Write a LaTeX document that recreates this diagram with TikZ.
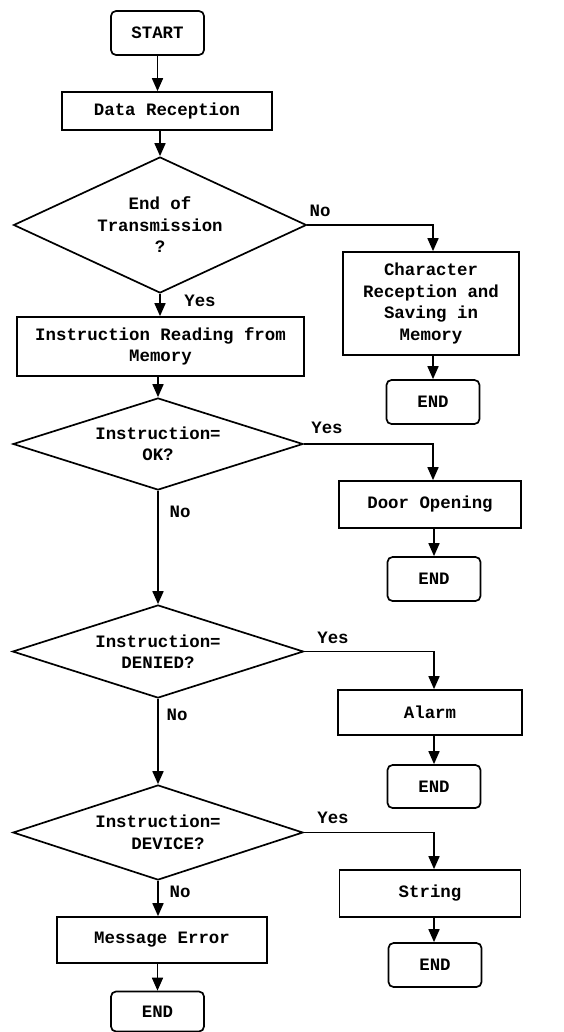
\documentclass[tikz,border=0pt]{standalone}
\usepackage{fontspec}
\setmonofont{Liberation Mono}
\usetikzlibrary{shapes.geometric,arrows.meta}
\begin{document}
\begin{tikzpicture}[x=1pt,y=-1pt,
  every node/.style={font=\ttfamily\bfseries\fontsize{17.4}{21.5}\selectfont, inner sep=0pt},
  proc/.style={draw, line width=1.7pt, align=center},
  term/.style={draw, line width=1.7pt, rounded corners=5pt, minimum width=93pt, minimum height=44pt},
  dec/.style={draw, line width=1.7pt, diamond, align=center, aspect=3},
  arr/.style={line width=1.7pt, -{Triangle[width=11pt,length=13pt]}},
  lbl/.style={anchor=center}]
\useasboundingbox (0,0) rectangle (563,1032);
% left column
\node[term] (start) at (157.5,33) {START};
\node[proc, minimum width=210pt, minimum height=38pt] (data) at (167,111) {Data Reception};
\node[dec, minimum width=289pt, minimum height=136pt] (d1) at (160,225) {End of\\Transmission\\?};
\node[proc, minimum width=287pt, minimum height=59pt] (ir) at (160.5,346.5) {Instruction Reading from\\Memory};
\node[dec, minimum width=290pt, minimum height=92pt] (d2) at (158,444) {Instruction=\\OK?};
\node[dec, minimum width=291pt, minimum height=93pt] (d3) at (158,651.5) {Instruction=\\DENIED?};
\node[dec, minimum width=290pt, minimum height=95pt] (d4) at (158,832.5) {Instruction=\\\hspace*{20pt}DEVICE?};
\node[proc, minimum width=210pt, minimum height=46pt] (msg) at (162,940) {Message Error};
\node[term, minimum height=40pt] (end5) at (157.5,1011.5) {END};
% right column
\node[proc, minimum width=176pt, minimum height=103pt] (chr) at (431,303.5) {Character\\Reception and\\Saving in\\Memory};
\node[term] (end1) at (433,402) {END};
\node[proc, minimum width=182pt, minimum height=47pt] (door) at (430,504.5) {Door Opening};
\node[term] (end2) at (434,579) {END};
\node[proc, minimum width=184pt, minimum height=45pt] (alarm) at (430,712.5) {Alarm};
\node[term, minimum height=43pt] (end3) at (434,786.5) {END};
\node[proc, minimum width=181pt, minimum height=47pt] (str) at (430,893.5) {String};
\node[term] (end4) at (435,965) {END};
% labels
\node[lbl] (l1) at (320,211) {No};
\node[lbl] (l2) at (200,301) {Yes};
\node[lbl] (l3) at (327,428) {Yes};
\node[lbl] (l4) at (180,512) {No};
\node[lbl] (l5) at (333,638) {Yes};
\node[lbl] (l6) at (177,715) {No};
\node[lbl] (l7) at (333,818) {Yes};
\node[lbl] (l8) at (180,892) {No};
% connectors
\draw[arr] (start.south) -- (start.south |- data.north);
\draw[arr] (d1.north |- data.south) -- (d1.north);
\draw[arr] (d1.south) -- (d1.south |- ir.north);
\draw[arr] (d2.north |- ir.south) -- (d2.north);
\draw[arr] (d2.south) -- (d3.north);
\draw[arr] (d3.south) -- (d4.north);
\draw[arr] (d4.south) -- (d4.south |- msg.north);
\draw[arr] (msg.south -| end5.north) -- (end5.north);
\draw[arr] (d1.east) -| (end1.north |- chr.north);
\draw[arr] (end1.north |- chr.south) -- (end1.north);
\draw[arr] (d2.east) -| (end1.north |- door.north);
\draw[arr] (end2.north |- door.south) -- (end2.north);
\draw[arr] (d3.east) -| (end3.north |- alarm.north);
\draw[arr] (end3.north |- alarm.south) -- (end3.north);
\draw[arr] (d4.east) -| (end3.north |- str.north);
\draw[arr] (end3.north |- str.south) -- (end4.north -| end3.north);
\end{tikzpicture}
\end{document}
